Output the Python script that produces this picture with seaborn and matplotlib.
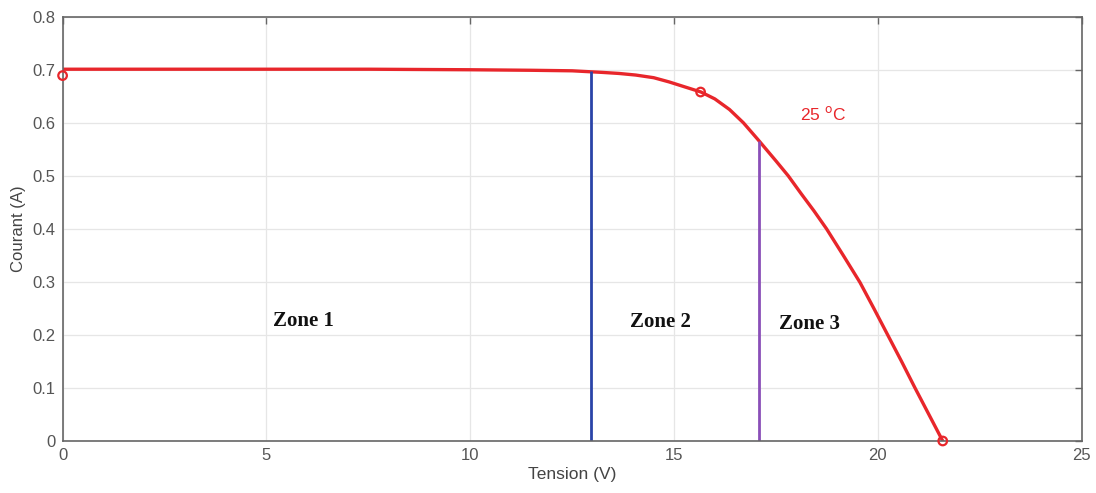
import numpy as np
import pandas as pd
import matplotlib
matplotlib.use('Agg')
import matplotlib.pyplot as plt
import seaborn as sns

# I-V curve
tension = [0.0, 2.5, 5.0, 7.5, 10.0, 11.5, 12.5, 13.24, 13.65, 14.06, 14.5, 14.88, 15.66, 16.0,
           16.36, 16.7, 17.05, 17.5, 17.8, 18.12, 18.43, 18.74, 19.15, 19.56, 19.9, 20.24,
           20.58, 20.91, 21.25, 21.59]
courant = [0.701, 0.701, 0.701, 0.701, 0.700, 0.699, 0.698, 0.695, 0.693, 0.690, 0.685, 0.677,
           0.658, 0.645, 0.625, 0.600, 0.569, 0.528, 0.500, 0.466, 0.434, 0.400, 0.350,
           0.299, 0.250, 0.200, 0.150, 0.100, 0.050, 0.0]

# marked points on the curve
mark_v = [0.0, 15.65, 21.59]
mark_i = [0.689, 0.658, 0.0]

# zone boundaries (x, top of line)
bound_v = [12.95, 17.08]
bound_i = [0.697, 0.566]
bound_colors = ['#2a44a8', '#8a4fb8']

zone_labels = ['Zone 1', 'Zone 2', 'Zone 3']
zone_x = [5.9, 14.67, 18.31]
zone_y = [0.227, 0.225, 0.22]

red = '#e8262b'

sns.set_style('whitegrid')
plt.rcParams['font.family'] = ['Liberation Sans', 'DejaVu Sans']

fig = plt.figure(figsize=(10.96, 4.93), dpi=100)
ax = fig.add_axes([0.0571, 0.1055, 0.9299, 0.8606])

df = pd.DataFrame({'Tension': tension, 'Courant': courant})
sns.lineplot(data=df, x='Tension', y='Courant', sort=False, color=red, linewidth=2.4, ax=ax)

for v, top, c in zip(bound_v, bound_i, bound_colors):
    ax.vlines(v, 0, top, color=c, linewidth=2)

sns.scatterplot(x=mark_v, y=mark_i, ax=ax, s=38, facecolors='none', edgecolor=red,
                linewidth=1.6, zorder=5, clip_on=False)

for lab, x, y in zip(zone_labels, zone_x, zone_y):
    ax.text(x, y, lab, ha='center', va='center', fontsize=15, fontweight='bold',
            family='Liberation Serif', color='#111111')

ax.text(18.65, 0.617, '25 $^{\\mathrm{o}}$C', color=red, fontsize=12.5, ha='center', va='center')

ax.set_xlim(0, 25)
ax.set_ylim(0, 0.8)
ax.set_xticks([0, 5, 10, 15, 20, 25])
ax.set_yticks(np.arange(0, 0.81, 0.1))
ax.set_yticklabels(['0', '0.1', '0.2', '0.3', '0.4', '0.5', '0.6', '0.7', '0.8'])
ax.set_xlabel('Tension (V)', fontsize=12.5, color='#444444', labelpad=3)
ax.set_ylabel('Courant (A)', fontsize=12, color='#444444', labelpad=5)

ax.grid(True, color='#e6e6e6', linewidth=0.9)
for s in ax.spines.values():
    s.set_visible(True)
    s.set_color('#666666')
    s.set_linewidth(1.2)
ax.tick_params(direction='in', length=5, width=1, color='#666666', top=True, right=True,
               labelsize=12, labelcolor='#555555', pad=5)

fig.savefig('out.png', dpi=100)
